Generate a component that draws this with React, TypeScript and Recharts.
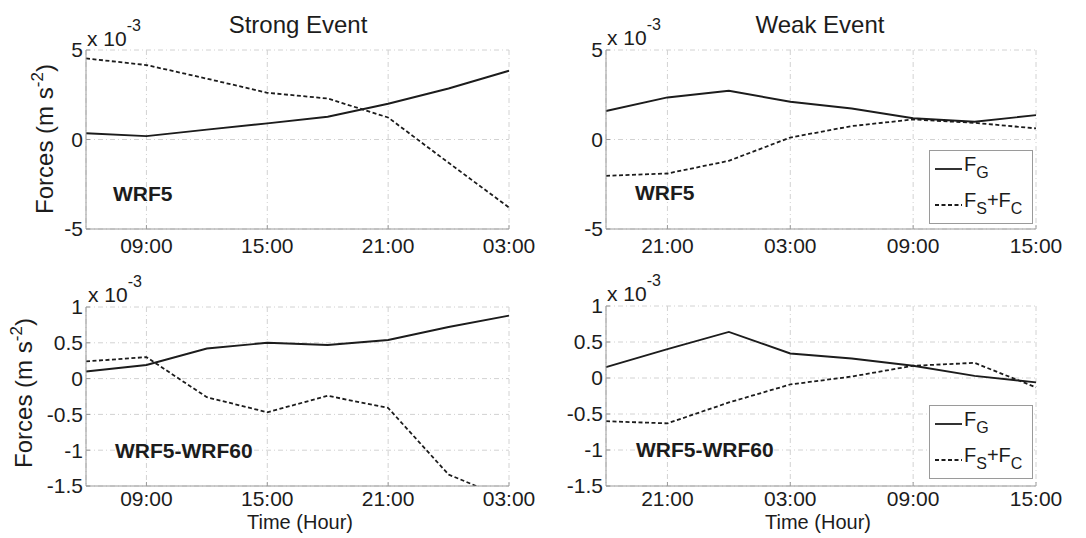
import { LineChart, Line, XAxis, YAxis, CartesianGrid, Legend } from "recharts";

const FONT = "'Liberation Sans', Arial, Helvetica, sans-serif";
const INK = "#1c1c1c";
const AXIS = "#9a9a9a";
const GRID = "#d2d2d2";

// hours counted from 00:00 of the first day
const strongHours = [6, 9, 12, 15, 18, 21, 24, 27];
const weakHours = [18, 21, 24, 27, 30, 33, 36, 39];

const strongTicks = [9, 15, 21, 27];
const strongTickLabels = ["09:00", "15:00", "21:00", "03:00"];
const weakTicks = [21, 27, 33, 39];
const weakTickLabels = ["21:00", "03:00", "09:00", "15:00"];

// forces in units of 10^-3 m s^-2
const strongWrf5G = [0.35, 0.19, 0.55, 0.9, 1.27, 2.0, 2.85, 3.84];
const strongWrf5SC = [4.53, 4.16, 3.4, 2.61, 2.29, 1.23, -1.3, -3.8];
const weakWrf5G = [1.59, 2.35, 2.72, 2.11, 1.73, 1.19, 0.99, 1.36];
const weakWrf5SC = [-2.03, -1.9, -1.19, 0.11, 0.75, 1.12, 0.93, 0.62];

const strongDiffG = [0.1, 0.19, 0.42, 0.5, 0.47, 0.54, 0.72, 0.88];
const strongDiffSC = [0.24, 0.3, -0.26, -0.47, -0.24, -0.41, -1.34, -1.69];
const weakDiffG = [0.15, 0.4, 0.64, 0.34, 0.27, 0.17, 0.03, -0.06];
const weakDiffSC = [-0.6, -0.63, -0.34, -0.09, 0.02, 0.17, 0.21, -0.13];

const topYTicks = [-5, 0, 5];
const bottomYTicks = [-1.5, -1, -0.5, 0, 0.5, 1];

const seriesNames = ["F_G", "F_S+F_C"];

const build = (hours: number[], g: number[], sc: number[]) =>
  hours.map((h, i) => ({ h, g: g[i], sc: sc[i] }));

// "F_S+F_C" -> F, sub S, +F, sub C
function withSubs(name: string) {
  return name.split(/_(\w)/).map((part, i) =>
    i % 2 ? (
      <sub key={i} style={{ fontSize: 16, verticalAlign: -7 }}>
        {part}
      </sub>
    ) : (
      <span key={i}>{part}</span>
    )
  );
}

function LegendBox({ payload }: any) {
  return (
    <div
      style={{
        width: 104,
        height: 74,
        boxSizing: "border-box",
        border: `1px solid ${AXIS}`,
        background: "#fff",
        fontFamily: FONT,
        fontSize: 20,
        color: INK,
        paddingLeft: 5,
      }}
    >
      {(payload || []).map((p: any) => (
        <div
          key={p.value}
          style={{ display: "flex", alignItems: "center", height: 36, lineHeight: "20px" }}
        >
          <svg width={27} height={4} style={{ marginRight: 2 }}>
            <line
              x1={0}
              y1={2}
              x2={27}
              y2={2}
              stroke={INK}
              strokeWidth={1.8}
              strokeDasharray={p.payload?.strokeDasharray}
            />
          </svg>
          <span style={{ marginTop: -2 }}>{withSubs(p.value)}</span>
        </div>
      ))}
    </div>
  );
}

type PanelProps = {
  left: number;
  top: number;
  data: { h: number; g: number; sc: number }[];
  xDomain: [number, number];
  ticks: number[];
  tickLabels: string[];
  yDomain: [number, number];
  yTicks: number[];
  yAxisWidth: number;
  xAxisHeight: number;
  xTickMargin: number;
  margin: { top: number; right: number; left: number; bottom: number };
  title?: string;
  tag: string;
  tagPos: [number, number];
  expPos: [number, number];
  yLabelPos?: [number, number];
  xLabelPos?: [number, number];
  legendTop?: number;
};

function Panel(p: PanelProps) {
  const fmt = (v: number) => {
    const i = p.ticks.indexOf(v);
    return i >= 0 ? p.tickLabels[i] : "";
  };
  const tickStyle = { fill: INK, fontSize: 21, fontFamily: FONT };
  return (
    <div style={{ position: "absolute", left: p.left, top: p.top }}>
      <LineChart width={543} height={269} data={p.data} margin={p.margin}>
        <CartesianGrid stroke={GRID} strokeDasharray="5 3 1 3" />
        <XAxis
          dataKey="h"
          type="number"
          domain={p.xDomain}
          ticks={p.ticks}
          tickFormatter={fmt}
          height={p.xAxisHeight}
          axisLine={{ stroke: AXIS }}
          tickLine={{ stroke: AXIS }}
          tickSize={-4}
          tickMargin={p.xTickMargin}
          tick={tickStyle}
          interval={0}
        />
        <YAxis
          type="number"
          domain={p.yDomain}
          ticks={p.yTicks}
          allowDataOverflow
          width={p.yAxisWidth}
          axisLine={{ stroke: AXIS }}
          tickLine={{ stroke: AXIS }}
          tickSize={-4}
          tickMargin={7}
          tick={tickStyle}
          interval={0}
        />
        <Line
          dataKey="g"
          name={seriesNames[0]}
          stroke={INK}
          strokeWidth={1.9}
          dot={false}
          isAnimationActive={false}
        />
        <Line
          dataKey="sc"
          name={seriesNames[1]}
          stroke={INK}
          strokeWidth={1.8}
          strokeDasharray="4 2.5"
          dot={false}
          isAnimationActive={false}
        />
        {p.legendTop !== undefined && (
          <Legend
            layout="vertical"
            align="center"
            verticalAlign="middle"
            content={<LegendBox />}
            wrapperStyle={{ left: 386, top: p.legendTop, width: 104, height: 74 }}
          />
        )}
        {p.title && (
          <text x={p.left === 0 ? 298 : 277} y={33} textAnchor="middle" fontSize={24} fill={INK} fontFamily={FONT}>
            {p.title}
          </text>
        )}
        <text x={p.expPos[0]} y={p.expPos[1]} fontSize={21} fill={INK} fontFamily={FONT}>
          x 10
          <tspan dy={-15} fontSize={16}>
            -3
          </tspan>
        </text>
        <text x={p.tagPos[0]} y={p.tagPos[1]} fontSize={21} fontWeight="bold" fill={INK} fontFamily={FONT}>
          {p.tag}
        </text>
        {p.yLabelPos && (
          <text
            x={p.yLabelPos[0]}
            y={p.yLabelPos[1]}
            transform={`rotate(-90 ${p.yLabelPos[0]} ${p.yLabelPos[1]})`}
            textAnchor="middle"
            fontSize={24}
            fill={INK}
            fontFamily={FONT}
          >
            Forces (m s
            <tspan dy={-10} fontSize={17}>
              -2
            </tspan>
            <tspan dy={10}>)</tspan>
          </text>
        )}
        {p.xLabelPos && (
          <text x={p.xLabelPos[0]} y={p.xLabelPos[1]} textAnchor="middle" fontSize={20} fill={INK} fontFamily={FONT}>
            Time (Hour)
          </text>
        )}
      </LineChart>
    </div>
  );
}

export default function App() {
  return (
    <div
      style={{
        position: "absolute",
        left: 0,
        top: 0,
        width: 1086,
        height: 538,
        background: "#fff",
        overflow: "hidden",
      }}
    >
      <Panel
        left={0}
        top={0}
        data={build(strongHours, strongWrf5G, strongWrf5SC)}
        xDomain={[6, 27]}
        ticks={strongTicks}
        tickLabels={strongTickLabels}
        yDomain={[-5, 5]}
        yTicks={topYTicks}
        yAxisWidth={86}
        xAxisHeight={40}
        xTickMargin={13}
        margin={{ top: 50, right: 34, left: 0, bottom: 0 }}
        title="Strong Event"
        tag="WRF5"
        tagPos={[113, 201]}
        expPos={[87, 46]}
        yLabelPos={[53, 139]}
      />
      <Panel
        left={543}
        top={0}
        data={build(weakHours, weakWrf5G, weakWrf5SC)}
        xDomain={[18, 39]}
        ticks={weakTicks}
        tickLabels={weakTickLabels}
        yDomain={[-5, 5]}
        yTicks={topYTicks}
        yAxisWidth={63}
        xAxisHeight={40}
        xTickMargin={13}
        margin={{ top: 50, right: 50, left: 0, bottom: 0 }}
        title="Weak Event"
        tag="WRF5"
        tagPos={[92, 200]}
        expPos={[64, 45]}
        legendTop={150}
      />
      <Panel
        left={0}
        top={269}
        data={build(strongHours, strongDiffG, strongDiffSC)}
        xDomain={[6, 27]}
        ticks={strongTicks}
        tickLabels={strongTickLabels}
        yDomain={[-1.5, 1]}
        yTicks={bottomYTicks}
        yAxisWidth={86}
        xAxisHeight={52}
        xTickMargin={9}
        margin={{ top: 38, right: 34, left: 0, bottom: 0 }}
        tag="WRF5-WRF60"
        tagPos={[115, 189]}
        expPos={[88, 33]}
        yLabelPos={[32, 124]}
        xLabelPos={[300, 260]}
      />
      <Panel
        left={543}
        top={269}
        data={build(weakHours, weakDiffG, weakDiffSC)}
        xDomain={[18, 39]}
        ticks={weakTicks}
        tickLabels={weakTickLabels}
        yDomain={[-1.5, 1]}
        yTicks={bottomYTicks}
        yAxisWidth={63}
        xAxisHeight={52}
        xTickMargin={9}
        margin={{ top: 37, right: 50, left: 0, bottom: 0 }}
        tag="WRF5-WRF60"
        tagPos={[93, 188]}
        expPos={[64, 32]}
        xLabelPos={[275, 260]}
        legendTop={136}
      />
    </div>
  );
}
